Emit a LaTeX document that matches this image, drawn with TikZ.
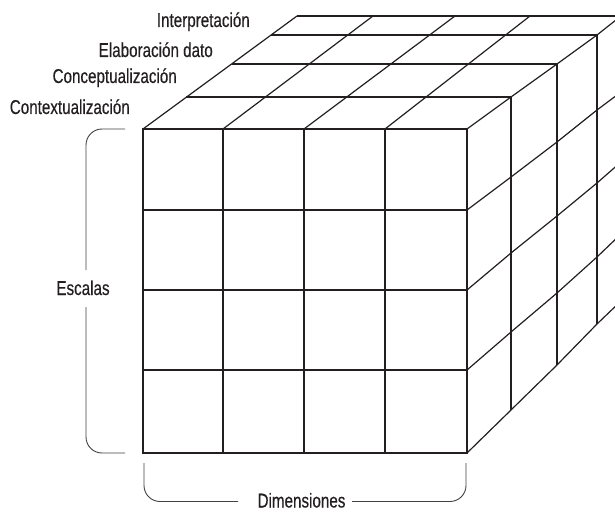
\documentclass[tikz,border=0pt]{standalone}
\usepackage{fontspec}
\setmainfont[FakeStretch=0.76,FakeBold=0.4]{Liberation Sans}
\definecolor{ink}{RGB}{35,31,32}
\begin{document}
\begin{tikzpicture}[x=1bp,y=-1bp,
  gridline/.style={draw=ink, line width=1.2bp},
  frame/.style={draw=ink, line width=2bp},
  bracket/.style={draw=ink!85, line width=0.9bp, rounded corners=16bp},
  lbl/.style={font=\fontsize{20bp}{23bp}\selectfont, text=ink, inner sep=0pt}]
\useasboundingbox (0,0) rectangle (615,512);

\begin{scope}
  \clip (0,0) rectangle (615,512);
  % right face: one column of points per depth layer (x, then five heights)
  \foreach \x/\ya/\yb/\yc/\yd/\ye [count=\k from 0] in
    {467/129/210/290/370/453, 511/97/177/253/332/410, 557/64/142/216/293/365,
     597/35/110/183/257/324, 621/16/92/162/234/301}{
    \coordinate (r\k-0) at (\x,\ya);
    \coordinate (r\k-1) at (\x,\yb);
    \coordinate (r\k-2) at (\x,\yc);
    \coordinate (r\k-3) at (\x,\yd);
    \coordinate (r\k-4) at (\x,\ye);
  }
  % top face: receding edges
  \foreach \a/\b in {143/297, 223/373, 304/455, 385/530}
    \draw[gridline] (\a,129) -- (\b,16);
  % top face: layer edges
  \foreach \xl/\yl/\k in {186/97/1, 232/64/2, 271/35/3, 297/16/4}
    \draw[gridline] (\xl,\yl) -- (r\k-0);
  % right face: verticals of each layer
  \foreach \k in {1,...,4}
    \draw[gridline] (r\k-0) -- (r\k-4);
  % right face: receding rows
  \foreach \j in {0,...,4}
    \draw[gridline] (r0-\j) -- (r1-\j) -- (r2-\j) -- (r3-\j) -- (r4-\j);
  % front face grid
  \foreach \x in {223,304,385}
    \draw[gridline] (\x,129) -- (\x,453);
  \foreach \y in {210,290,370}
    \draw[gridline] (143,\y) -- (467,\y);
  \draw[frame] (143,129) rectangle (467,453);
\end{scope}

% layer names
\node[lbl, anchor=base east] (interp) at (250,27) {Interpretación};
\node[lbl, anchor=base east] (elab) at (213,57) {Elaboración dato};
\node[lbl, anchor=base east] (concep) at (177,83) {Conceptualización};
\node[lbl, anchor=base east] (contex) at (130,114) {Contextualización};
\node[lbl, anchor=base] (escalas) at (83,295) {Escalas};
\node[lbl, anchor=base] (dimen) at (301.5,507.5) {Dimensiones};

% brackets
\coordinate (esctop) at (86,270);
\coordinate (escbot) at (86,307);
\coordinate (dimleft) at (238,501.5);
\coordinate (dimright) at (352,501.5);
\draw[bracket] (125,129) -- (86,129) -- (esctop);
\draw[bracket] (escbot) -- (86,453) -- (125,453);
\draw[bracket] (144,463) -- (144,501.5) -- (dimleft);
\draw[bracket] (dimright) -- (466,501.5) -- (466,463);
\end{tikzpicture}
\end{document}
